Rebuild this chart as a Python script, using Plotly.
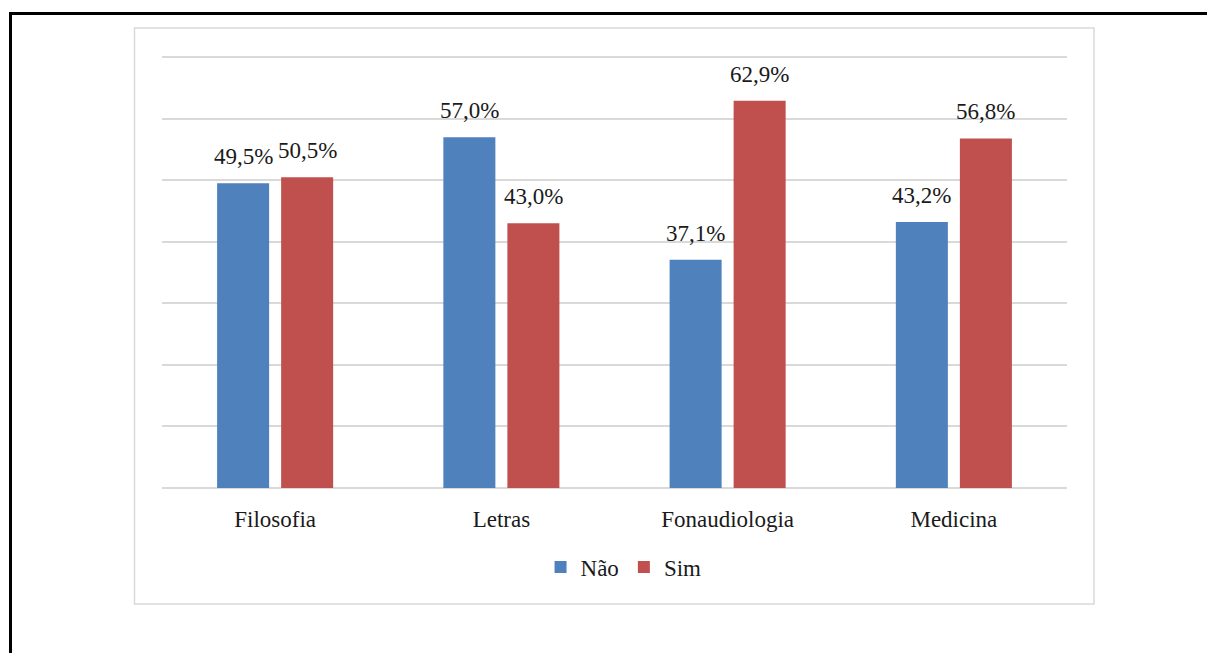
import plotly.graph_objects as go

# Survey answers by course (percent)
cursos = ["Filosofia", "Letras", "Fonaudiologia", "Medicina"]
nao = [49.5, 57.0, 37.1, 43.2]
sim = [50.5, 43.0, 62.9, 56.8]
series_names = ["Não", "Sim"]
colors = ["#4f81bd", "#c0504d"]

W, H = 1207, 653
# plot area in pixels (y range 0..71 so the 70 gridline is drawn)
PL, PR, PT, PB = 162, 1067, 51, 488
pw, ph = PR - PL, PB - PT


def px_x(x):
    return (x - PL) / pw


def px_y(y):
    return (PB - y) / ph


def fmt(v):
    return f"{v:.1f}".replace(".", ",") + "%"


FONT = "Liberation Serif"

fig = go.Figure()
for name, vals, col in zip(series_names, [nao, sim], colors):
    fig.add_trace(go.Bar(
        x=cursos, y=vals, name=name, marker=dict(color=col, line=dict(width=0)),
        hoverinfo="skip",
    ))

# value labels above each bar
for vals, shift in [(nao, -32), (sim, 32)]:
    for c, v in zip(cursos, vals):
        fig.add_annotation(
            x=c, y=v, text=fmt(v), showarrow=False, xshift=shift, yshift=12,
            yanchor="bottom", font=dict(family=FONT, size=23, color="#1a1a1a"),
        )

shapes = [
    # light frame around the chart
    dict(type="rect", xref="paper", yref="paper",
         x0=px_x(134.5), x1=px_x(1094), y0=px_y(604), y1=px_y(28),
         line=dict(color="#d9d9d9", width=1.5), fillcolor="rgba(0,0,0,0)", layer="below"),
    # outer black page rules
    dict(type="line", xref="paper", yref="paper",
         x0=px_x(9), x1=px_x(1207), y0=px_y(13.5), y1=px_y(13.5),
         line=dict(color="black", width=3)),
    dict(type="line", xref="paper", yref="paper",
         x0=px_x(10.5), x1=px_x(10.5), y0=px_y(12), y1=px_y(653),
         line=dict(color="black", width=3)),
]

fig.update_layout(
    width=W, height=H,
    margin=dict(l=PL, r=W - PR, t=PT, b=H - PB),
    paper_bgcolor="white", plot_bgcolor="white",
    barmode="group", bargap=0.434, bargroupgap=0.1875,
    font=dict(family=FONT, size=23, color="#1a1a1a"),
    showlegend=True,
    legend=dict(orientation="h", x=0.51, xanchor="center", y=px_y(567), yanchor="middle",
                font=dict(family=FONT, size=23, color="#1a1a1a"), itemwidth=30,
                traceorder="normal"),
    shapes=shapes,
    xaxis=dict(showgrid=False, showline=False, zeroline=False, ticks="outside",
               ticklen=10, tickcolor="rgba(0,0,0,0)",
               tickfont=dict(family=FONT, size=23, color="#1a1a1a"), fixedrange=True),
    yaxis=dict(range=[0, 71], tickvals=[0, 10, 20, 30, 40, 50, 60, 70], showgrid=True,
               gridcolor="#d9d9d9", gridwidth=1.5,
               zeroline=True, zerolinecolor="#d9d9d9", zerolinewidth=1.5,
               showticklabels=False, showline=False, fixedrange=True),
)

fig.write_html("out.html")
